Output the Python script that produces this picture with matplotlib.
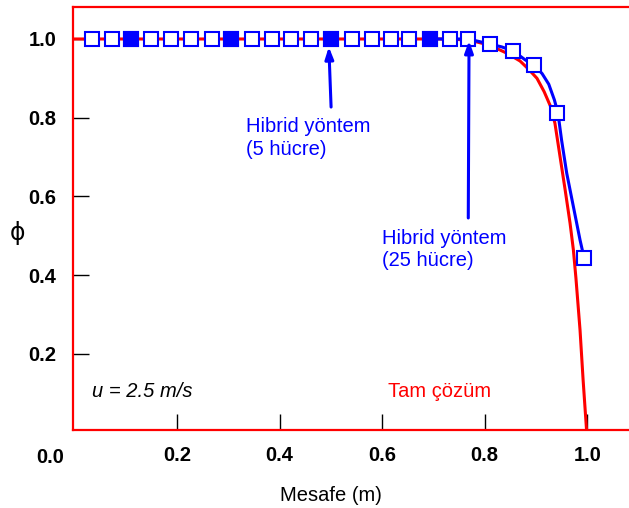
import matplotlib
matplotlib.use('Agg')
import matplotlib.pyplot as plt

plt.rcParams['font.family'] = ['Liberation Sans', 'DejaVu Sans']

# Exact solution (red curve)
exact_x = [0.0, 0.74, 0.78, 0.81, 0.843, 0.869, 0.885, 0.902, 0.916, 0.928,
           0.937, 0.947, 0.957, 0.9665, 0.973, 0.978, 0.986, 0.992, 0.999]
exact_y = [1.0, 1.0, 0.994, 0.984, 0.964, 0.944, 0.924, 0.900, 0.866, 0.830,
           0.786, 0.701, 0.616, 0.532, 0.464, 0.392, 0.260, 0.133, 0.0]

# Hybrid scheme, 25 cells (line + open squares)
hyb25_line_x = [0.694, 0.732, 0.768, 0.791, 0.810, 0.833, 0.855, 0.879, 0.896,
                0.912, 0.925, 0.936, 0.943, 0.950, 0.960, 0.973, 0.986, 0.994]
hyb25_line_y = [1.0, 1.0, 1.0, 0.993, 0.987, 0.980, 0.970, 0.947, 0.934,
                0.912, 0.885, 0.845, 0.811, 0.743, 0.659, 0.574, 0.489, 0.443]
hyb25_x = [0.035, 0.074, 0.110, 0.149, 0.189, 0.227, 0.268, 0.305, 0.346, 0.385,
           0.422, 0.461, 0.500, 0.542, 0.580, 0.617, 0.653, 0.694, 0.732, 0.768,
           0.810, 0.855, 0.896, 0.942, 0.994]
hyb25_y = [1.0] * 20 + [0.987, 0.970, 0.934, 0.811, 0.443]

# Hybrid scheme, 5 cells (filled squares)
hyb5_x = [0.110, 0.305, 0.500, 0.694]
hyb5_y = [1.0, 1.0, 1.0, 1.0]

tick_vals = [0.2, 0.4, 0.6, 0.8, 1.0]
tick_labels = ['0.2', '0.4', '0.6', '0.8', '1.0']

fig = plt.figure(figsize=(6.29, 5.08), dpi=100)
ax = fig.add_axes([73 / 629, 78 / 508, 556 / 629, 423 / 508])

ax.plot(exact_x, exact_y, color='#ff0000', lw=2.2, zorder=2)
ax.plot(hyb25_line_x, hyb25_line_y, color='#0000ff', lw=2.2, zorder=3)
ax.plot(hyb25_x, hyb25_y, ls='none', marker='s', ms=10.3, mfc='white',
        mec='#0000ff', mew=1.5, zorder=4)
ax.plot(hyb5_x, hyb5_y, ls='none', marker='s', ms=10.3, mfc='#0000ff',
        mec='#0000ff', mew=1.5, zorder=5)

ax.set_xlim(-0.003, 1.0815)
ax.set_ylim(0.006, 1.0813)

for s in ['left', 'top', 'bottom']:
    ax.spines[s].set_color('#ff0000')
    ax.spines[s].set_linewidth(1.6)
ax.spines['right'].set_visible(False)

ax.set_xticks(tick_vals)
ax.set_xticklabels(tick_labels)
ax.set_yticks(tick_vals)
ax.set_yticklabels(tick_labels)
ax.tick_params(direction='in', length=11.5, width=1, color='black',
               labelsize=14.5, top=False, right=False)
ax.tick_params(axis='x', pad=11.5)
ax.tick_params(axis='y', pad=12)
for lab in ax.get_xticklabels() + ax.get_yticklabels():
    lab.set_fontweight('bold')

ax.text(-0.0466, -0.078, '0.0', ha='center', va='baseline', fontsize=14.5,
        fontweight='bold', clip_on=False)
ax.text(0.5, -0.1736, 'Mesafe (m)', ha='center', va='baseline', fontsize=14.5)
ax.text(-0.112, 0.507, '\u03d5', ha='center', va='center', fontsize=17,
        family=['DejaVu Sans'])

arrow = dict(arrowstyle='-|>,head_length=0.7,head_width=0.25', color='#0000ff',
             lw=2.2, shrinkA=0, shrinkB=0)
ax.annotate('', xy=(0.496, 0.98), xytext=(0.5004, 0.827), arrowprops=arrow, zorder=6)
ax.annotate('', xy=(0.7695, 0.9957), xytext=(0.768, 0.545), arrowprops=arrow, zorder=6)

ax.text(0.3346, 0.802, 'Hibrid yöntem\n(5 hücre)', color='#0000ff',
        fontsize=14.5, ha='left', va='top', linespacing=1.25)
ax.text(0.5993, 0.518, 'Hibrid yöntem\n(25 hücre)', color='#0000ff',
        fontsize=14.5, ha='left', va='top', linespacing=1.25)
ax.text(0.0337, 0.0907, 'u = 2.5 m/s', fontsize=14.5, style='italic',
        ha='left', va='baseline')
ax.text(0.612, 0.0907, 'Tam çözüm', color='#ff0000', fontsize=14.5,
        ha='left', va='baseline')

fig.savefig('out.png', dpi=100)
